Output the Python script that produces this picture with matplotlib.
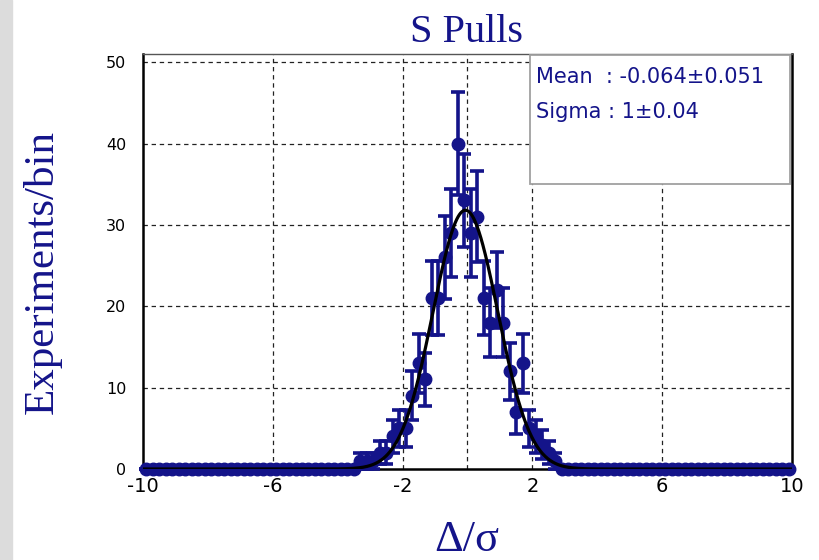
import numpy as np
import matplotlib
matplotlib.use("Agg")
import matplotlib.pyplot as plt
from matplotlib.patches import Rectangle

plt.rcParams['axes.unicode_minus'] = False

# histogram of pulls: 100 bins of width 0.2 in [-10, 10]
bin_edges = np.linspace(-10, 10, 101)
bin_centers = 0.5 * (bin_edges[:-1] + bin_edges[1:])

# non-empty bins (centre -> entries)
filled_centers = [-3.3, -3.1, -2.9, -2.7, -2.5, -2.3, -2.1, -1.9, -1.7, -1.5,
                  -1.3, -1.1, -0.9, -0.7, -0.5, -0.3, -0.1, 0.1, 0.3, 0.5,
                  0.7, 0.9, 1.1, 1.3, 1.5, 1.7, 1.9, 2.1, 2.3, 2.5, 2.7]
filled_counts = [1, 1, 1, 2, 2, 4, 5, 5, 9, 13,
                 11, 21, 21, 26, 29, 40, 33, 29, 31, 21,
                 18, 22, 18, 12, 7, 13, 5, 4, 3, 2, 1]

# fit result shown in the stats box
fit_mean, fit_mean_err = -0.064, 0.051
fit_sigma, fit_sigma_err = 1, 0.04
fit_amp = 31.8

counts = np.zeros_like(bin_centers)
for c, n in zip(filled_centers, filled_counts):
    counts[np.argmin(np.abs(bin_centers - c))] = n
errors = np.sqrt(counts)

navy = '#14148a'

fig = plt.figure(figsize=(8.2, 5.6), dpi=100)
fig.patches.append(Rectangle((0, 0), 12 / 820, 1, transform=fig.transFigure,
                             color='#dcdcdc', zorder=0))
ax = fig.add_axes([143 / 820, 91 / 560, 649 / 820, 415 / 560])

ax.errorbar(bin_centers, counts, yerr=errors, fmt='o', color=navy,
            markersize=9, elinewidth=2.6, capsize=5, capthick=2.6,
            clip_on=False, zorder=3)

xx = np.linspace(-10, 10, 1000)
ax.plot(xx, fit_amp * np.exp(-0.5 * ((xx - fit_mean) / fit_sigma) ** 2),
        color='black', linewidth=2.3, zorder=4)

ax.set_xlim(-10, 10)
ax.set_ylim(0, 51)
ax.set_xticks([-10, -6, -2, 2, 6, 10])
ax.set_yticks([0, 10, 20, 30, 40, 50])
ax.tick_params(axis='x', length=0, pad=6, labelsize=14)
ax.tick_params(axis='y', length=0, pad=12, labelsize=11.5)

# dashed grid
for yv in [10, 20, 30, 40, 50]:
    ax.axhline(yv, color='#222222', linestyle=(0, (3.5, 3)), linewidth=0.9, zorder=1)
for xv in [-6, -2, 0, 2, 6]:
    ax.axvline(xv, color='#222222', linestyle=(0, (3.5, 3)), linewidth=0.9, zorder=1)

for side in ['left', 'bottom', 'right']:
    ax.spines[side].set_linewidth(1.8)
    ax.spines[side].set_color('black')
ax.spines['top'].set_linewidth(1.0)
ax.spines['top'].set_color('#555555')

# stats box
ax.add_patch(Rectangle((0.596, 0.687), 0.401, 0.311, transform=ax.transAxes,
                       facecolor='white', edgecolor='#a0a0a0', linewidth=1.3,
                       zorder=5))
ax.text(0.606, 0.945, f'Mean  : {fit_mean}\u00b1{fit_mean_err}', transform=ax.transAxes,
        color=navy, fontsize=15, va='center', zorder=6)
ax.text(0.606, 0.86, f'Sigma : {fit_sigma}\u00b1{fit_sigma_err}', transform=ax.transAxes,
        color=navy, fontsize=15, va='center', zorder=6)

serif = ['Liberation Serif', 'DejaVu Serif']
fig.text(467 / 820, 1 - 32 / 560, 'S Pulls', family=serif, color=navy,
         fontsize=29, ha='center', va='center')
fig.text(42 / 820, 1 - 272 / 560, 'Experiments/bin', family=serif, color=navy,
         fontsize=31, ha='center', va='center', rotation=90)
fig.text(467 / 820, 1 - 540 / 560, '\u0394/\u03c3', family=serif, color=navy,
         fontsize=32, ha='center', va='center')

fig.savefig('out.png', dpi=100)
